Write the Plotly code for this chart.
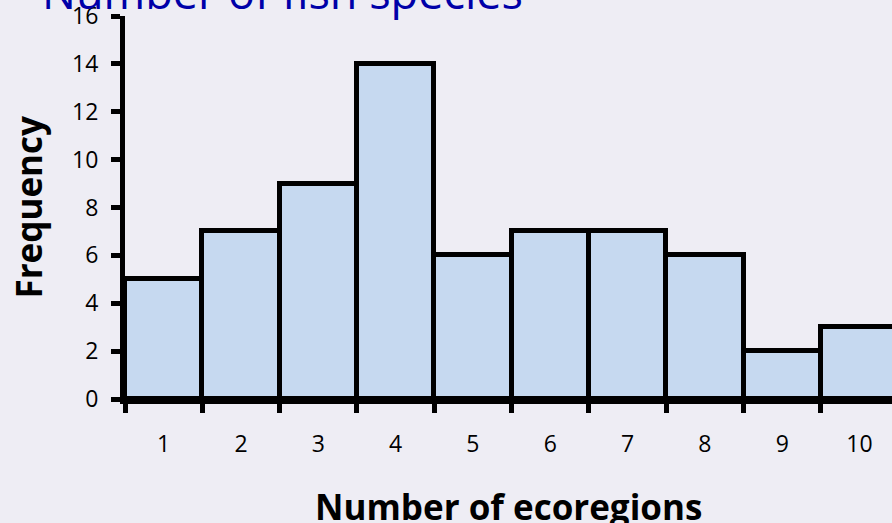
import plotly.graph_objects as go

categories = ["1", "2", "3", "4", "5", "6", "7", "8", "9", "10"]
frequency = [5, 7, 9, 14, 6, 7, 7, 6, 2, 3]
y_ticks = [0, 2, 4, 6, 8, 10, 12, 14, 16]

title_text = "Number of fish species"
x_title = "Number of ecoregions"
y_title = "Frequency"

BG = "#EEEDF4"
FONT = "Open Sans"

fig = go.Figure()
fig.add_trace(go.Bar(
    x=categories,
    y=frequency,
    marker=dict(color="#C6D9F0", line=dict(color="black", width=5)),
    width=1.0,
))

fig.update_layout(
    width=892, height=523,
    margin=dict(l=125, r=0, t=16, b=124),
    paper_bgcolor=BG, plot_bgcolor=BG,
    bargap=0,
    showlegend=False,
    font=dict(family=FONT, color="black"),
    xaxis=dict(
        type="category",
        range=[-0.5, 9.42],
        tickson="boundaries",
        ticks="outside", ticklen=9, tickwidth=5, tickcolor="black",
        showline=True, linewidth=5, linecolor="black",
        showgrid=False, zeroline=False,
        tickfont=dict(family=FONT, size=23, color="black"),
        ticklabelstandoff=20,
        ticklabeloverflow="allow",
    ),
    yaxis=dict(
        range=[0, 16],
        tickvals=y_ticks,
        ticks="outside", ticklen=9, tickwidth=5, tickcolor="black",
        showline=True, linewidth=5, linecolor="black",
        showgrid=False, zeroline=False,
        tickfont=dict(family=FONT, size=23, color="black"),
        ticklabelstandoff=8,
        ticklabeloverflow="allow",
    ),
    annotations=[
        dict(text=title_text, xref="paper", yref="paper",
             x=(40 - 125) / 767, y=0.9796, xanchor="left", yanchor="bottom",
             showarrow=False,
             font=dict(family=FONT, size=45, color="#0000A8")),
        dict(text=f"<b>{x_title}</b>", xref="paper", yref="paper",
             x=0.5, y=-(506 - 399) / 383, xanchor="center", yanchor="middle",
             showarrow=False,
             font=dict(family=FONT, size=35, color="black")),
        dict(text=f"<b>{y_title}</b>", xref="paper", yref="paper",
             x=(28 - 125) / 767, y=0.5, xanchor="center", yanchor="middle",
             textangle=-90, showarrow=False,
             font=dict(family=FONT, size=35, color="black")),
    ],
)

fig.write_html("out.html",
               config={"displayModeBar": False},
               post_script="document.body.style.margin='0';document.body.style.overflow='hidden';")
